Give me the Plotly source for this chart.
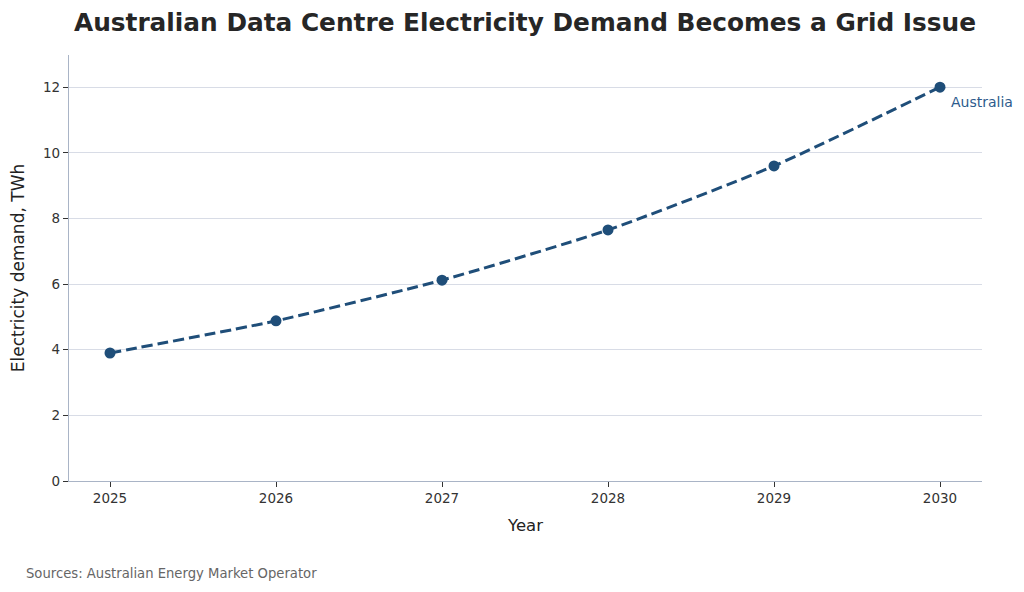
import plotly.graph_objects as go

years = [2025, 2026, 2027, 2028, 2029, 2030]
demand = [3.9, 4.88, 6.12, 7.65, 9.6, 12.0]
series_name = "Australia"
y_ticks = [0, 2, 4, 6, 8, 10, 12]

line_color = "#1f4e79"
spine_color = "#a9b4c6"
grid_color = "#d8dce6"
font_family = "DejaVu Sans"

fig = go.Figure()
fig.add_trace(go.Scatter(
    x=years, y=demand, mode="lines+markers", name=series_name,
    line=dict(color=line_color, width=3, dash="11px,5px", shape="spline", smoothing=0.6),
    marker=dict(color=line_color, size=11),
    showlegend=False,
))

w, h = 1024, 592
ml, mr, mt, mb = 69, 42, 55, 111
pw, ph = w - ml - mr, h - mt - mb

fig.add_annotation(
    x=years[-1], y=demand[-1], text=series_name, showarrow=False,
    xanchor="left", yanchor="middle", xshift=9, yshift=-15,
    font=dict(family=font_family, size=14, color="#2d5b8c"),
)

fig.add_annotation(
    x=(24 - ml) / pw, y=(h - mb - 573) / ph, xref="paper", yref="paper",
    text="Sources: Australian Energy Market Operator",
    showarrow=False, xanchor="left", yanchor="middle",
    font=dict(family=font_family, size=13.2, color="#666666"),
)

fig.update_layout(
    width=w, height=h,
    margin=dict(l=ml, r=mr, t=mt, b=mb),
    paper_bgcolor="white", plot_bgcolor="white",
    font=dict(family=font_family, color="#333333"),
    title=dict(
        text="<b>Australian Data Centre Electricity Demand Becomes a Grid Issue</b>",
        x=525 / w, xanchor="center", y=1 - 22 / h, yanchor="middle",
        font=dict(family=font_family, size=24.8, color="#262626"),
    ),
    xaxis=dict(
        range=[2024.753, 2030.253], tickmode="array", tickvals=years,
        ticktext=[str(y) for y in years],
        showgrid=False, zeroline=False, showline=True, linecolor=spine_color, linewidth=1.2,
        ticks="outside", ticklen=5, tickcolor="#333333", tickwidth=1,
        tickfont=dict(size=13.5, color="#333333"),
        title=dict(text="Year", font=dict(size=16.5, color="#222222"), standoff=14),
    ),
    yaxis=dict(
        range=[0, 12.98], tickmode="array", tickvals=y_ticks,
        showgrid=True, gridcolor=grid_color, gridwidth=1.3, zeroline=False,
        showline=True, linecolor=spine_color, linewidth=1.2,
        ticks="outside", ticklen=5, tickcolor="#333333", tickwidth=1,
        tickfont=dict(size=13.5, color="#333333"),
        title=dict(text="Electricity demand, TWh", font=dict(size=17, color="#222222"), standoff=14),
    ),
)

fig.write_html("out.html")
